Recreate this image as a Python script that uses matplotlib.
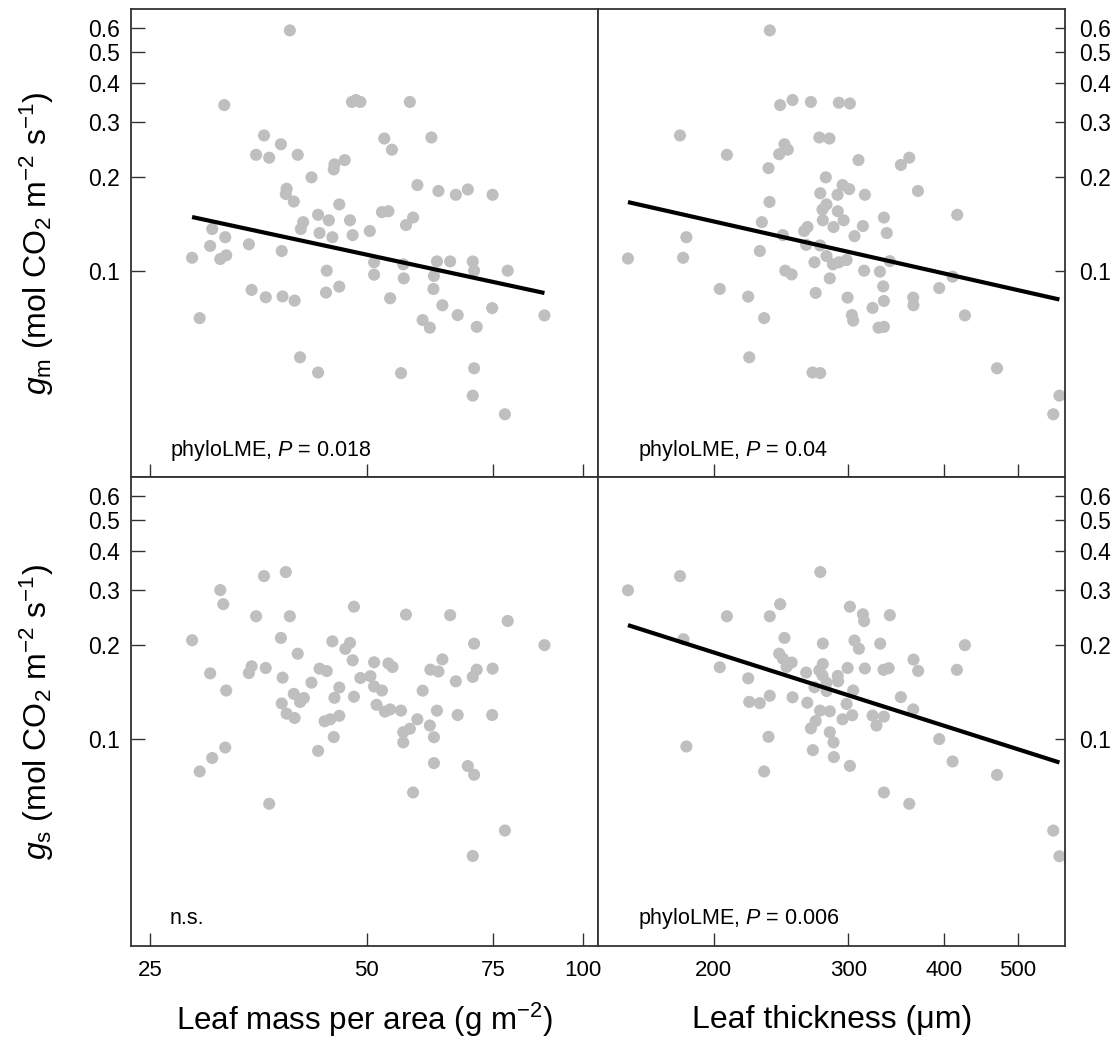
import matplotlib
matplotlib.use('Agg')
import matplotlib.pyplot as plt
import numpy as np
from matplotlib.ticker import NullLocator

plt.rcParams['font.family'] = ['Liberation Sans', 'DejaVu Sans']
plt.rcParams['mathtext.fontset'] = 'custom'
plt.rcParams['mathtext.rm'] = 'Liberation Sans'
plt.rcParams['mathtext.it'] = 'Liberation Sans:italic'
plt.rcParams['mathtext.bf'] = 'Liberation Sans:bold'

# top-left: leaf mass per area vs gm
tl_lma = [39.1, 31.7, 47.7, 48.3, 49.0, 57.4, 36.0, 38.0, 35.1, 36.6, 40.1, 52.9, 54.2, 61.5,
          45.1, 45.0, 46.6, 41.9, 38.7, 38.6, 39.6, 58.8, 62.9, 66.5, 69.1, 74.8, 45.8, 42.8,
          44.3, 47.4, 52.5, 53.6, 58.0, 56.7, 40.8, 40.5, 43.0, 44.8, 47.8, 50.5, 30.5, 31.8,
          30.3, 28.6, 31.3, 31.9, 34.3, 38.1, 44.0, 43.9, 45.8, 34.6, 36.2, 38.2, 39.7, 29.3,
          51.2, 51.2, 56.2, 56.3, 53.9, 62.6, 65.3, 70.2, 70.5, 78.5, 62.0, 61.9, 63.7, 66.9,
          59.8, 61.2, 71.1, 74.7, 88.3, 40.4, 42.8, 55.8, 70.5, 70.2, 77.8]
tl_gm = [0.588, 0.339, 0.347, 0.352, 0.347, 0.347, 0.271, 0.254, 0.235, 0.230, 0.235, 0.265,
         0.244, 0.267, 0.219, 0.211, 0.226, 0.199, 0.183, 0.176, 0.1665, 0.188, 0.180, 0.175,
         0.182, 0.175, 0.163, 0.151, 0.145, 0.145, 0.154, 0.155, 0.148, 0.140, 0.143, 0.136,
         0.132, 0.128, 0.130, 0.134, 0.136, 0.128, 0.120, 0.110, 0.109, 0.112, 0.1215, 0.1156,
         0.100, 0.0851, 0.0889, 0.0868, 0.0822, 0.0827, 0.0802, 0.0705, 0.1064, 0.0971, 0.1048,
         0.0945, 0.0816, 0.1071, 0.1071, 0.107, 0.100, 0.100, 0.0962, 0.0874, 0.0775, 0.0721,
         0.0695, 0.0657, 0.0661, 0.0759, 0.0719, 0.0528, 0.0472, 0.0470, 0.0487, 0.0398, 0.0347]

# top-right: leaf thickness vs gm
tr_thick = [236.8, 244.3, 253.6, 268.0, 291.5, 301.4, 180.7, 208.1, 274.9, 283.4, 247.5, 250.0,
            243.6, 235.9, 309.3, 351.4, 360.4, 280.3, 294.8, 300.8, 275.7, 290.4, 315.3, 369.9,
            236.6, 280.9, 277.5, 290.6, 277.8, 295.8, 231.2, 333.9, 416.4, 262.6, 265.3, 286.9,
            313.4, 305.6, 336.8, 246.3, 184.2, 264.2, 275.5, 229.8, 182.4, 154.5, 280.9, 286.4,
            291.6, 298.4, 270.9, 248.1, 252.9, 314.6, 329.9, 339.9, 283.7, 410.6, 203.7, 221.9,
            271.9, 299.3, 333.2, 333.9, 364.7, 365.0, 394.4, 322.7, 303.2, 304.4, 232.8, 426.1,
            328.6, 333.9, 222.6, 269.3, 275.6, 469.4, 566.4, 556.0]
tr_gm = [0.588, 0.339, 0.352, 0.347, 0.345, 0.343, 0.271, 0.235, 0.267, 0.265, 0.254, 0.244,
         0.236, 0.213, 0.226, 0.218, 0.230, 0.199, 0.188, 0.1825, 0.177, 0.175, 0.175, 0.180,
         0.166, 0.163, 0.157, 0.155, 0.145, 0.145, 0.143, 0.148, 0.151, 0.134, 0.138, 0.138,
         0.139, 0.129, 0.132, 0.130, 0.128, 0.121, 0.1205, 0.1156, 0.110, 0.1094, 0.1114,
         0.1048, 0.1064, 0.1082, 0.1064, 0.100, 0.0973, 0.100, 0.0993, 0.1073, 0.0945, 0.0957,
         0.0874, 0.0826, 0.0849, 0.0820, 0.0891, 0.0800, 0.0820, 0.0775, 0.0880, 0.0760, 0.0721,
         0.0692, 0.0705, 0.0719, 0.0657, 0.0661, 0.0528, 0.0472, 0.0470, 0.0487, 0.0398, 0.0347]

# bottom-left: leaf mass per area vs gs
bl_lma = [38.6, 36.0, 31.3, 31.6, 48.0, 35.1, 39.1, 56.7, 65.3, 78.5, 28.6, 38.0, 40.1, 44.8,
          47.4, 46.7, 47.8, 70.5, 63.7, 30.3, 31.9, 34.3, 34.6, 36.2, 38.2, 41.9, 43.0, 44.0,
          51.2, 53.6, 54.3, 49.0, 50.6, 51.2, 52.5, 45.8, 45.1, 48.0, 61.3, 62.9, 59.8, 66.5,
          70.2, 71.1, 74.8, 39.6, 40.9, 40.4, 38.1, 38.7, 39.7, 45.8, 43.7, 44.5, 45.0, 51.6,
          53.0, 53.9, 55.8, 58.8, 57.4, 56.2, 56.2, 61.2, 62.0, 62.6, 66.9, 74.7, 62.0, 69.1,
          70.5, 58.0, 42.8, 31.8, 30.5, 29.3, 36.6, 77.8, 70.2, 88.3]
bl_gs = [0.342, 0.332, 0.2995, 0.270, 0.265, 0.247, 0.247, 0.250, 0.249, 0.2386, 0.207, 0.2106,
         0.1875, 0.2054, 0.203, 0.1942, 0.1786, 0.2019, 0.1798, 0.1622, 0.143, 0.1626, 0.1709,
         0.1688, 0.1572, 0.1515, 0.1679, 0.1650, 0.176, 0.1745, 0.170, 0.1568, 0.1589, 0.1473,
         0.143, 0.1462, 0.1355, 0.1366, 0.1667, 0.1645, 0.1428, 0.153, 0.158, 0.1667, 0.1680,
         0.1395, 0.1353, 0.1314, 0.1300, 0.1206, 0.1168, 0.1187, 0.1140, 0.1157, 0.1015, 0.1287,
         0.1224, 0.1244, 0.1233, 0.1157, 0.1079, 0.1052, 0.0976, 0.1105, 0.1014, 0.1233, 0.1194,
         0.1194, 0.0838, 0.0820, 0.0769, 0.0675, 0.0917, 0.0940, 0.0870, 0.0788, 0.0621, 0.0510,
         0.0423, 0.1997]

# bottom-right: leaf thickness vs gs
br_thick = [154.5, 180.7, 275.7, 244.3, 208.1, 236.8, 301.4, 313.4, 314.6, 339.9, 182.6, 247.5,
            277.8, 305.6, 309.7, 330.2, 426.1, 365.0, 370.2, 416.0, 203.7, 221.9, 243.6, 246.3,
            249.1, 252.9, 264.2, 274.9, 277.8, 277.5, 280.9, 270.9, 281.0, 290.6, 290.9, 299.3,
            315.3, 333.5, 338.7, 304.4, 351.4, 364.7, 222.6, 229.8, 236.8, 253.6, 265.1, 298.4,
            275.5, 283.7, 294.8, 303.5, 322.7, 333.9, 326.5, 271.9, 268.0, 283.7, 286.9, 235.9,
            184.2, 269.6, 287.2, 301.4, 232.8, 394.4, 410.6, 469.4, 333.9, 360.4, 556.0, 566.4]
br_gs = [0.299, 0.332, 0.342, 0.270, 0.247, 0.247, 0.265, 0.2506, 0.2384, 0.249, 0.2086, 0.2106,
         0.2021, 0.2065, 0.1944, 0.2019, 0.1997, 0.1795, 0.1652, 0.1665, 0.1697, 0.1564, 0.1875,
         0.1808, 0.1701, 0.1757, 0.1632, 0.1658, 0.1738, 0.1598, 0.1515, 0.1465, 0.1425, 0.1592,
         0.1530, 0.1688, 0.1682, 0.1665, 0.1685, 0.143, 0.1362, 0.1244, 0.1315, 0.1303, 0.1376,
         0.1360, 0.1307, 0.1295, 0.1233, 0.1227, 0.1157, 0.1192, 0.1189, 0.1180, 0.1105, 0.1142,
         0.1082, 0.1052, 0.0976, 0.1017, 0.0947, 0.0922, 0.0876, 0.0821, 0.0788, 0.1000, 0.0848,
         0.0768, 0.0675, 0.0621, 0.0510, 0.0422]

# fitted lines, log10(y) = intercept + slope * log10(x)
tl_fit = (-0.1043, -0.497)
tr_fit = (0.4297, -0.5528)
br_fit = (1.068, -0.7783)

notes = ['phyloLME, $P$ = 0.018', 'phyloLME, $P$ = 0.04', 'n.s.', 'phyloLME, $P$ = 0.006']

y_ticks = [0.1, 0.2, 0.3, 0.4, 0.5, 0.6]
lma_ticks = [25, 50, 75, 100]
thick_ticks = [200, 300, 400, 500]

W, H = 1114, 1044
fig = plt.figure(figsize=(W / 100, H / 100), dpi=100)

def px_axes(x0, x1, y0, y1):
    return fig.add_axes([x0 / W, 1 - y1 / H, (x1 - x0) / W, (y1 - y0) / H])

ax_tl = px_axes(130.7, 598.3, 9.3, 477.3)
ax_tr = px_axes(598.3, 1065, 9.3, 477.3)
ax_bl = px_axes(130.7, 598.3, 477.3, 946)
ax_br = px_axes(598.3, 1065, 477.3, 946)

dot_col = '#bfbfbf'
frame_col = '#333333'


def panel(ax, x, y, fit, note, xlim, xticks, right, bottom):
    ax.scatter(x, y, s=76, color=dot_col, edgecolors='none', zorder=2)
    if fit is not None:
        xs = np.array([min(x), max(x)])
        ys = 10 ** (fit[0] + fit[1] * np.log10(xs))
        ax.plot(xs, ys, color='black', lw=3.0, solid_capstyle='butt', zorder=3)
    ax.set_xscale('log')
    ax.set_yscale('log')
    ax.set_xlim(xlim)
    ax.set_ylim(0.0218, 0.687)
    ax.set_xticks(xticks)
    ax.set_xticklabels([str(t) for t in xticks])
    ax.set_yticks(y_ticks)
    ax.set_yticklabels([str(t) for t in y_ticks])
    ax.xaxis.set_minor_locator(NullLocator())
    ax.yaxis.set_minor_locator(NullLocator())
    for sp in ax.spines.values():
        sp.set_color(frame_col)
        sp.set_linewidth(1.3)
    ax.tick_params(axis='x', direction='in', length=9.5, width=1.0, color=frame_col,
                   labelsize=16, pad=10, labelbottom=bottom)
    if right:
        ax.yaxis.tick_right()
        ax.tick_params(axis='y', direction='in', length=7.5, width=1.0, color=frame_col,
                       labelsize=16.5, pad=10, left=False, right=True,
                       labelleft=False, labelright=True)
    else:
        ax.tick_params(axis='y', direction='in', length=10, width=1.0, color=frame_col,
                       labelsize=16.5, pad=8)
    ax.text(0.084, 0.058, note, transform=ax.transAxes, fontsize=15.5,
            ha='left', va='center')


panel(ax_tl, tl_lma, tl_gm, tl_fit, notes[0], (23.5, 104.9), lma_ticks, False, False)
panel(ax_tr, tr_thick, tr_gm, tr_fit, notes[1], (141.3, 576), thick_ticks, True, False)
panel(ax_bl, bl_lma, bl_gs, None, notes[2], (23.5, 104.9), lma_ticks, False, True)
panel(ax_br, br_thick, br_gs, br_fit, notes[3], (141.3, 576), thick_ticks, True, True)

fig.text(37 / W, 1 - 243.3 / H, r'$g_{\mathrm{m}}$ (mol CO$_2$ m$^{-2}$ s$^{-1}$)',
         rotation=90, ha='center', va='center', fontsize=23)
fig.text(37 / W, 1 - 711.7 / H, r'$g_{\mathrm{s}}$ (mol CO$_2$ m$^{-2}$ s$^{-1}$)',
         rotation=90, ha='center', va='center', fontsize=23)
fig.text(364.5 / W, 1 - 1020 / H, r'Leaf mass per area (g m$^{-2}$)',
         ha='center', va='center', fontsize=22.5)
fig.text(831.7 / W, 1 - 1020 / H, 'Leaf thickness (\u03bcm)',
         ha='center', va='center', fontsize=23)

fig.savefig('out.png', dpi=100)
